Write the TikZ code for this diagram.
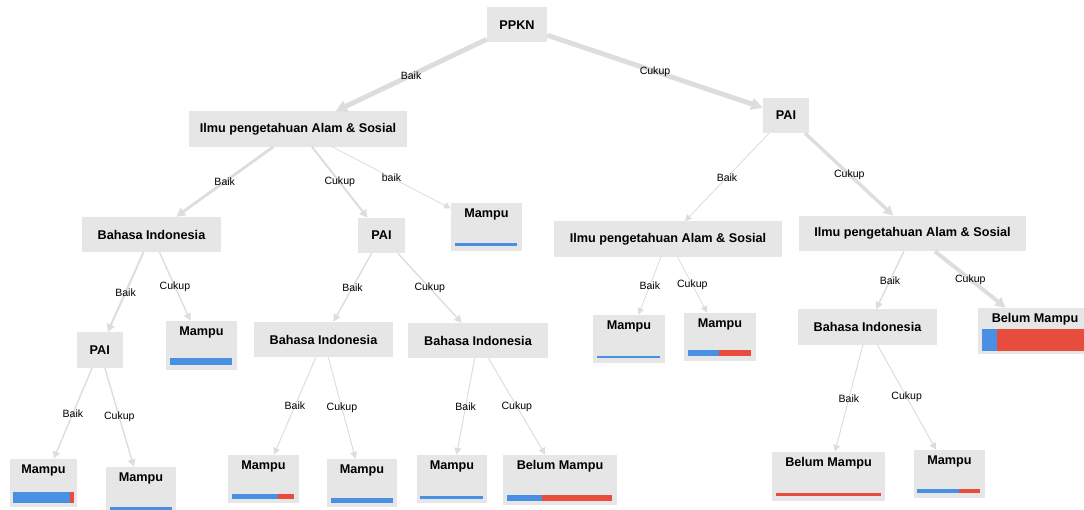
\documentclass[tikz,border=0pt]{standalone}
\usepackage{fontspec}
\setmainfont{Liberation Sans}
\usetikzlibrary{arrows.meta}

\definecolor{boxgray}{RGB}{230,230,230}
\definecolor{edgegray}{RGB}{221,221,221}
\definecolor{barblue}{RGB}{74,144,226}
\definecolor{barred}{RGB}{231,76,60}

\tikzset{
  box/.style={fill=boxgray, inner sep=0pt, minimum height=0.875cm, font=\bfseries\fontsize{9}{10}\selectfont},
  leaf/.style={fill=boxgray, inner sep=0pt},
  leaflab/.style={anchor=north, yshift=-4pt, inner sep=0pt, font=\bfseries\fontsize{9}{10}\selectfont},
  edge/.style={draw=edgegray, -{Triangle[length=4pt 1.2, width=4pt 1.2]}},
  lab/.style={inner sep=1pt, font=\fontsize{7.5}{8}\selectfont}
}

\begin{document}
\begin{tikzpicture}[x=0.025cm, y=-0.025cm]
\useasboundingbox (0,0) rectangle (1084,510);
\path
    (517,25) node[box, minimum width=1.5cm](a1){PPKN}
    (298,129) node[box, minimum width=5.45cm](a2){Ilmu pengetahuan Alam \& Sosial}
    (786,115.5) node[box, minimum width=1.15cm](a3){PAI}
    (151.5,234.5) node[box, minimum width=3.475cm](a4){Bahasa Indonesia}
    (381.5,235.5) node[box, minimum width=1.175cm](a5){PAI}
    (486.5,227) node[leaf, minimum width=1.775cm, minimum height=1.2cm, label={[leaflab]north:Mampu}](a6){}
    (668,239) node[box, minimum width=5.675cm](a7){Ilmu pengetahuan Alam \& Sosial}
    (912.5,233.5) node[box, minimum width=5.675cm](a8){Ilmu pengetahuan Alam \& Sosial}
    (99.7,350) node[box, minimum width=1.15cm](a9){PAI}
    (201.5,345.5) node[leaf, minimum width=1.775cm, minimum height=1.225cm, label={[leaflab]north:Mampu}](a10){}
    (323.5,339.5) node[box, minimum width=3.475cm](a11){Bahasa Indonesia}
    (478,340.5) node[box, minimum width=3.5cm](a12){Bahasa Indonesia}
    (629,339) node[leaf, minimum width=1.8cm, minimum height=1.2cm, label={[leaflab]north:Mampu}](a13){}
    (720,337) node[leaf, minimum width=1.8cm, minimum height=1.2cm, label={[leaflab]north:Mampu}](a14){}
    (867.5,327) node[box, minimum width=3.475cm](a15){Bahasa Indonesia}
    (1035,331) node[leaf, minimum width=2.85cm, minimum height=1.15cm, label={[leaflab]north:Belum Mampu}](a16){}
    (43.5,483) node[leaf, minimum width=1.675cm, minimum height=1.2cm, label={[leaflab]north:Mampu}](a17){}
    (141,491.5) node[leaf, minimum width=1.75cm, minimum height=1.225cm, label={[leaflab]north:Mampu}](a18){}
    (263.5,479) node[leaf, minimum width=1.775cm, minimum height=1.2cm, label={[leaflab]north:Mampu}](a19){}
    (362,483) node[leaf, minimum width=1.75cm, minimum height=1.2cm, label={[leaflab]north:Mampu}](a20){}
    (452,479) node[leaf, minimum width=1.75cm, minimum height=1.2cm, label={[leaflab]north:Mampu}](a21){}
    (560,480) node[leaf, minimum width=2.85cm, minimum height=1.25cm, label={[leaflab]north:Belum Mampu}](a22){}
    (828.5,476.5) node[leaf, minimum width=2.825cm, minimum height=1.225cm, label={[leaflab]north:Belum Mampu}](a23){}
    (949.5,474) node[leaf, minimum width=1.775cm, minimum height=1.2cm, label={[leaflab]north:Mampu}](a24){};

    % cabang
    \draw[edge, line width=3.5pt] (a1) -- (a2) node[midway, lab] {Baik};
    \draw[edge, line width=3.5pt] (a1) -- (a3) node[midway, lab] {Cukup};
    \draw[edge, line width=2pt] (a2) -- (a4) node[midway, lab] {Baik};
    \draw[edge, line width=1.4pt] (a2) -- (a5) node[midway, lab] {Cukup};
    \draw[edge, line width=0.6pt] (a2) -- (a6) node[midway, lab] {baik};
    \draw[edge, line width=0.6pt] (a3) -- (a7) node[midway, lab] {Baik};
    \draw[edge, line width=2.4pt] (a3) -- (a8) node[midway, lab] {Cukup};
    \draw[edge, line width=1.4pt] (a4) -- (a9) node[midway, lab] {Baik};
    \draw[edge, line width=1pt] (a4) -- (a10) node[midway, lab] {Cukup};
    \draw[edge, line width=1pt] (a5) -- (a11) node[midway, lab] {Baik};
    \draw[edge, line width=1pt] (a5) -- (a12) node[midway, lab] {Cukup};
    \draw[edge, line width=0.6pt] (a7) -- (a13) node[midway, lab] {Baik};
    \draw[edge, line width=0.6pt] (a7) -- (a14) node[midway, lab] {Cukup};
    \draw[edge, line width=1pt] (a8) -- (a15) node[midway, lab] {Baik};
    \draw[edge, line width=2.8pt] (a8) -- (a16) node[midway, lab] {Cukup};
    \draw[edge, line width=1pt] (a9) -- (a17) node[midway, lab] {Baik};
    \draw[edge, line width=1pt] (a9) -- (a18) node[midway, lab] {Cukup};
    \draw[edge, line width=0.7pt] (a11) -- (a19) node[midway, lab] {Baik};
    \draw[edge, line width=0.7pt] (a11) -- (a20) node[midway, lab] {Cukup};
    \draw[edge, line width=0.7pt] (a12) -- (a21) node[midway, lab] {Baik};
    \draw[edge, line width=0.7pt] (a12) -- (a22) node[midway, lab] {Cukup};
    \draw[edge, line width=0.7pt] (a15) -- (a23) node[midway, lab] {Baik};
    \draw[edge, line width=0.7pt] (a15) -- (a24) node[midway, lab] {Cukup};

    % batang distribusi kelas
    \fill[barblue] (455,243) rectangle (517,246);
    \fill[barblue] (170,358) rectangle (232,365);
    \fill[barblue] (597,356) rectangle (660,358.5);
    \fill[barblue] (688,350) rectangle (719,356);
    \fill[barred] (719,350) rectangle (751,356);
    \fill[barblue] (982,329) rectangle (997,351);
    \fill[barred] (997,329) rectangle (1092,351);
    \fill[barblue] (13,492) rectangle (70,503);
    \fill[barred] (70,492) rectangle (74,503);
    \fill[barblue] (110,507) rectangle (172,512);
    \fill[barblue] (232,494) rectangle (278,499);
    \fill[barred] (278,494) rectangle (294,499);
    \fill[barblue] (331,497.5) rectangle (392.5,502.5);
    \fill[barblue] (420,495.5) rectangle (483,498.5);
    \fill[barblue] (507,495) rectangle (542,500.5);
    \fill[barred] (542,495) rectangle (612,500.5);
    \fill[barred] (776,493) rectangle (881,495.5);
    \fill[barblue] (917,489) rectangle (959,493);
    \fill[barred] (959,489) rectangle (980,493);
\end{tikzpicture}
\end{document}
